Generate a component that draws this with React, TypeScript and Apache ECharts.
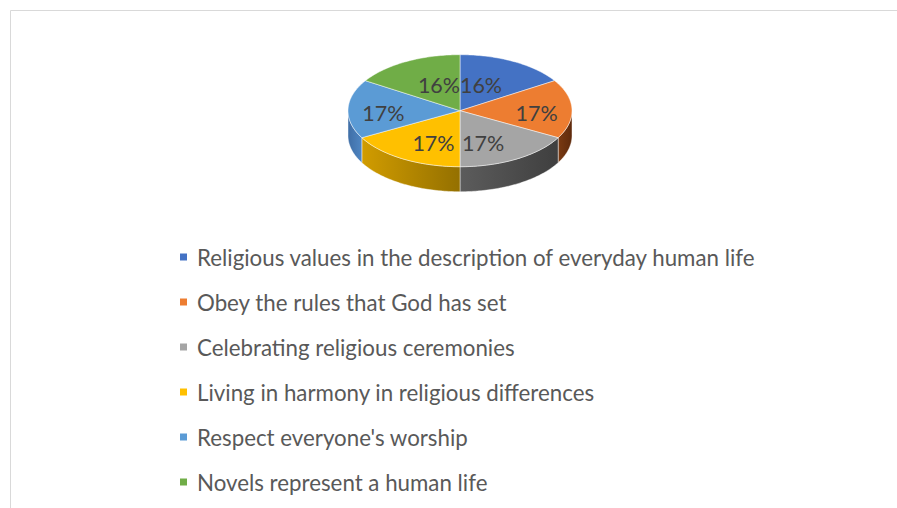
import React, { useEffect, useRef } from "react";
import * as echarts from "echarts";

const categories = [
  "Religious values in the description of everyday human life",
  "Obey the rules that God has set",
  "Celebrating religious ceremonies",
  "Living in harmony in religious differences",
  "Respect everyone's worship",
  "Novels represent a human life",
];
const values = [16, 17, 17, 17, 17, 16];
const topColors = ["#4472C4", "#ED7D31", "#A5A5A5", "#FFC000", "#5B9BD5", "#70AD47"];
const sideStops: string[][] = [
  ["#2f528f", "#3a63ad"],
  ["#7a3a12", "#5e2a0c"],
  ["#5c5c5c", "#3f3f3f"],
  ["#d19c00", "#947000"],
  ["#3f6ea6", "#4f86c2"],
  ["#4e7a31", "#5a8c39"],
];

const CX = 460;
const CY = 110.7;
const RX = 112;
const RY = 56;
const DEPTH = 25;

function pt(theta: number, dy = 0): number[] {
  return [CX + RX * Math.sin(theta), CY - RY * Math.cos(theta) + dy];
}

function arcPts(a: number, b: number, dy = 0): number[][] {
  const n = Math.max(2, Math.ceil(((b - a) * 180) / Math.PI));
  const out: number[][] = [];
  for (let k = 0; k <= n; k++) out.push(pt(a + ((b - a) * k) / n, dy));
  return out;
}

function makeRender(i: number) {
  return (params: any, api: any) => {
    const total = values.reduce((s, v) => s + v, 0);
    let before = 0;
    for (let k = 0; k < i; k++) before += values[k];
    const v = api.value(0);
    const a0 = (before / total) * Math.PI * 2;
    const a1 = ((before + v) / total) * Math.PI * 2;
    const children: any[] = [];
    const s0 = Math.max(a0, Math.PI / 2);
    const s1 = Math.min(a1, (3 * Math.PI) / 2);
    if (s1 > s0) {
      const top = arcPts(s0, s1, 0);
      const bot = arcPts(s0, s1, DEPTH).reverse();
      const stops = sideStops[i];
      children.push({
        type: "polygon",
        shape: { points: top.concat(bot) },
        style: {
          fill: {
            type: "linear",
            x: 0, y: 0, x2: 1, y2: 0,
            colorStops: [
              { offset: 0, color: stops[0] },
              { offset: 1, color: stops[1] },
            ],
          },
          stroke: "rgba(255,255,255,0.55)",
          lineWidth: 0.8,
        },
      });
    }
    const face = [[CX, CY]].concat(arcPts(a0, a1, 0));
    children.push({
      type: "polygon",
      shape: { points: face },
      style: { fill: topColors[i], stroke: "rgba(255,255,255,0.6)", lineWidth: 0.8 },
    });
    const mid = (a0 + a1) / 2;
    const s = Math.sin(mid);
    const c = Math.cos(mid);
    const fx = 0.4 + (Math.abs(s) - 0.5) * 0.57 + (c < 0 && s < 0 ? 0.06 : 0);
    const fy = c > 0 ? 0.53 : 0.65;
    const lx = CX + s * RX * fx;
    const ly = CY - c * RY * fy + 3 * s * s;
    children.push({
      type: "text",
      style: {
        text: Math.round((v / total) * 100) + "%",
        x: lx,
        y: ly,
        align: "center",
        verticalAlign: "middle",
        fill: "#404040",
        font: "21.5px Lato",
      },
    });
    return { type: "group", children };
  };
}

export default function App() {
  const ref = useRef<HTMLDivElement>(null);
  useEffect(() => {
    if (!ref.current) return;
    const chart = echarts.init(ref.current, null, { renderer: "svg" });
    chart.setOption({
      animation: false,
      backgroundColor: "#ffffff",
      color: topColors,
      legend: {
        orient: "vertical",
        left: 180,
        top: 245,
        padding: 0,
        icon: "rect",
        itemWidth: 7,
        itemHeight: 7,
        itemGap: 21,
        selectedMode: false,
        data: categories,
        textStyle: { color: "#595959", fontSize: 22.3, lineHeight: 24, fontFamily: "Lato", padding: [0, 0, 0, 5] },
      },
      graphic: [
        {
          type: "rect",
          shape: { x: 10.5, y: 10.5, width: 920, height: 520 },
          style: { fill: "none", stroke: "#d9d9d9", lineWidth: 1 },
          silent: true,
        },
      ],
      series: categories.map((name, i) => ({
        type: "custom",
        name,
        coordinateSystem: "none",
        itemStyle: { color: topColors[i] },
        data: [[values[i]]],
        renderItem: makeRender(i),
      })),
    });
    return () => chart.dispose();
  }, []);
  return <div ref={ref} style={{ position: "fixed", left: 0, top: 0, width: 897, height: 508 }} />;
}
